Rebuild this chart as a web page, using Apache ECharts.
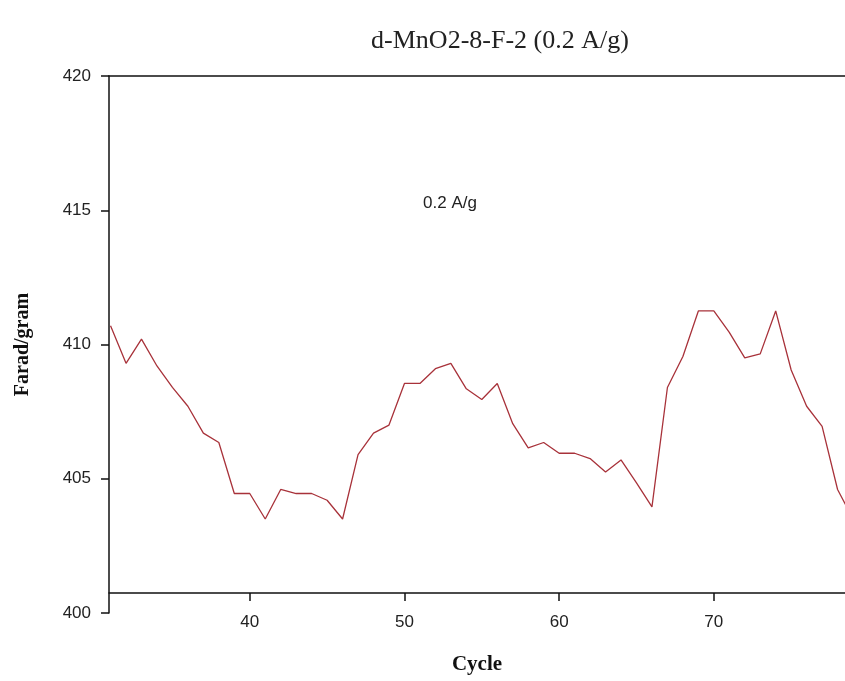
<!DOCTYPE html>
<html>
<head>
<meta charset="utf-8">
<script src="https://cdn.jsdelivr.net/npm/echarts@6/dist/echarts.min.js"></script>
<style>
html,body{margin:0;padding:0;background:#fff;}
#chart{width:845px;height:681px;}
</style>
</head>
<body>
<div id="chart"></div>
<script>
const chartTitle = 'd-MnO2-8-F-2 (0.2 A/g)';
const annotationText = '0.2 A/g';
const xName = 'Cycle';
const yName = 'Farad/gram';
const cycles = [31,32,33,34,35,36,37,38,39,40,41,42,43,44,45,46,47,48,49,50,51,52,53,54,55,56,57,58,59,60,61,62,63,64,65,66,67,68,69,70,71,72,73,74,75,76,77,78,79];
const capacity = [410.7,409.3,410.2,409.2,408.4,407.7,406.7,406.35,404.45,404.45,403.5,404.6,404.45,404.45,404.2,403.5,405.9,406.7,407.0,408.55,408.55,409.1,409.3,408.35,407.95,408.55,407.05,406.15,406.35,405.95,405.95,405.75,405.25,405.7,404.85,403.95,408.4,409.55,411.25,411.25,410.45,409.5,409.65,411.25,409.05,407.7,406.95,404.6,403.5];
const xTicks = [40,50,60,70];
const yTicks = [400,405,410,415,420];

const chart = echarts.init(document.getElementById('chart'), null, {renderer:'canvas'});
const seriesData = cycles.map((c,i)=>[c, capacity[i]]);
const xMin = 30.9, xMax = 78.48;
const lineStyle = {color:'#111', width:1.5};
chart.setOption({
  animation:false,
  backgroundColor:'#fff',
  grid:{left:109, right:0, top:76, bottom:68, containLabel:false},
  graphic:[
    {type:'text', x:500, y:41, style:{text:chartTitle, textAlign:'center', textVerticalAlign:'middle', font:'26px "Liberation Serif", "Times New Roman", serif', fill:'#222'}},
    {type:'text', x:450, y:203, style:{text:annotationText, textAlign:'center', textVerticalAlign:'middle', font:'17px "Liberation Sans", Arial, sans-serif', fill:'#222'}}
  ],
  xAxis:[{
    type:'value', min:xMin, max:xMax, position:'bottom', offset:-20,
    name:xName, nameLocation:'middle', nameGap:61,
    nameTextStyle:{fontFamily:'"Liberation Serif", "Times New Roman", serif', fontWeight:'bold', fontSize:21, color:'#111'},
    axisLine:{show:true, onZero:false, lineStyle:lineStyle},
    axisTick:{show:true, inside:false, length:8, lineStyle:lineStyle, customValues:xTicks},
    axisLabel:{show:true, margin:21, fontFamily:'"Liberation Sans", Arial, sans-serif', fontSize:17, color:'#222', customValues:xTicks},
    splitLine:{show:false}
  },{
    type:'value', min:xMin, max:xMax, position:'top',
    axisLine:{show:true, onZero:false, lineStyle:lineStyle},
    axisTick:{show:false}, axisLabel:{show:false}, splitLine:{show:false}
  }],
  yAxis:{
    type:'value', min:400, max:420, interval:5, position:'left',
    name:yName, nameLocation:'middle', nameGap:76, nameRotate:90,
    nameTextStyle:{fontFamily:'"Liberation Serif", "Times New Roman", serif', fontWeight:'bold', fontSize:20, color:'#111'},
    axisLine:{show:true, onZero:false, lineStyle:lineStyle},
    axisTick:{show:true, inside:false, length:8, lineStyle:lineStyle},
    axisLabel:{show:true, margin:18, fontFamily:'"Liberation Sans", Arial, sans-serif', fontSize:17, color:'#222', customValues:yTicks},
    splitLine:{show:false}
  },
  series:[{
    type:'line', xAxisIndex:0, yAxisIndex:0, data:seriesData,
    showSymbol:false, symbol:'none', clip:true,
    lineStyle:{color:'#a8323a', width:1.3}
  }]
});
</script>
</body>
</html>
